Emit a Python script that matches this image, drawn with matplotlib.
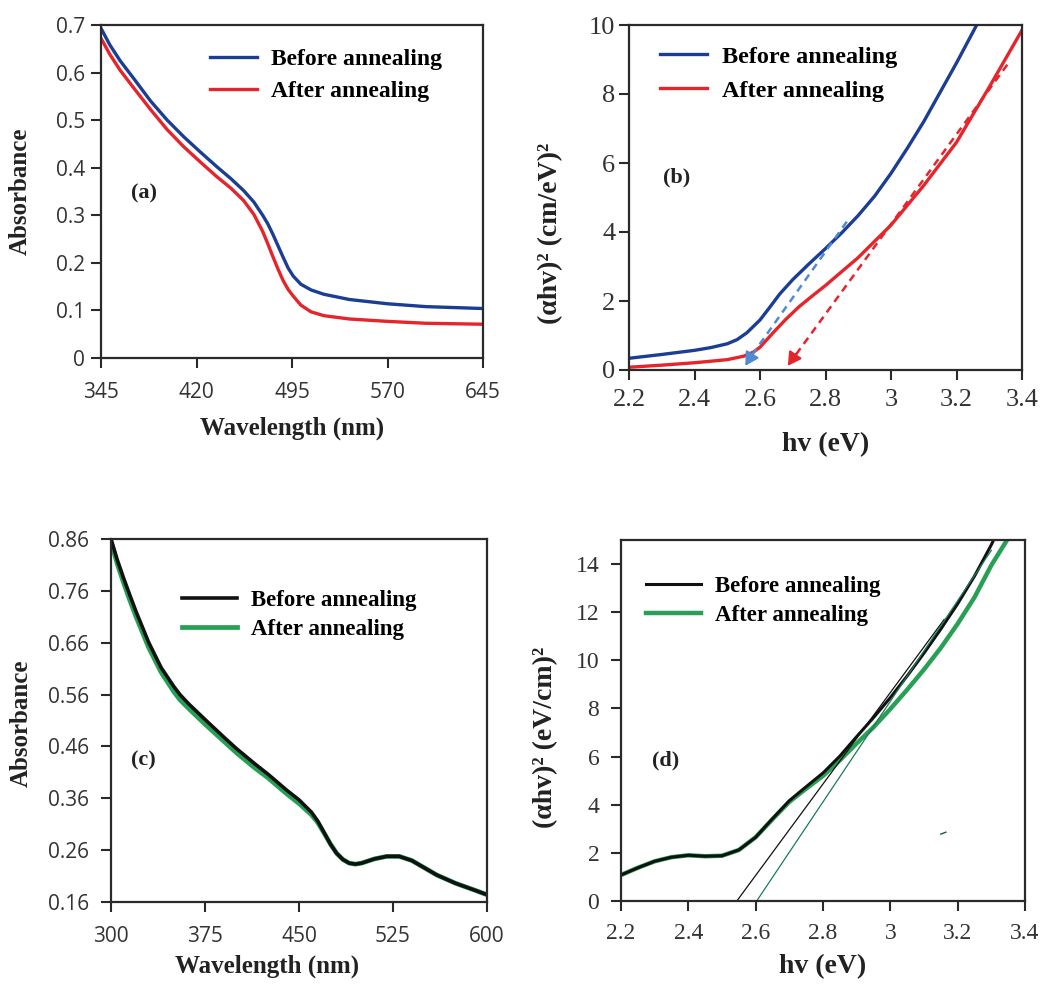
import matplotlib
matplotlib.use("Agg")
import matplotlib.pyplot as plt
from matplotlib.font_manager import FontProperties

# ---------------- data ----------------
# (a) absorbance spectra, sample 1
wl_a = [345, 352, 360, 370, 384, 397, 410, 423, 436, 447, 457, 465, 472, 476, 480, 484,
        488, 492, 496, 502, 510, 520, 540, 570, 600, 645]
abs_a_before = [0.693, 0.658, 0.625, 0.590, 0.540, 0.500, 0.465, 0.433, 0.402, 0.377, 0.352,
                0.328, 0.300, 0.282, 0.260, 0.236, 0.212, 0.189, 0.172, 0.155, 0.143, 0.134,
                0.123, 0.114, 0.108, 0.104]
abs_a_after = [0.672, 0.638, 0.605, 0.570, 0.522, 0.480, 0.444, 0.412, 0.381, 0.357, 0.331,
               0.302, 0.266, 0.240, 0.213, 0.187, 0.163, 0.144, 0.130, 0.111, 0.097, 0.089,
               0.082, 0.077, 0.073, 0.071]

# (b) Tauc plot, sample 1
hv_b_before = [2.2, 2.3, 2.4, 2.45, 2.5, 2.53, 2.56, 2.6, 2.63, 2.66, 2.7, 2.75, 2.8, 2.85,
               2.9, 2.95, 3.0, 3.05, 3.1, 3.15, 3.2, 3.27]
tauc_b_before = [0.34, 0.45, 0.57, 0.65, 0.76, 0.88, 1.08, 1.45, 1.82, 2.20, 2.62, 3.08,
                 3.52, 3.98, 4.48, 5.04, 5.70, 6.43, 7.20, 8.05, 8.90, 10.15]
hv_b_after = [2.2, 2.3, 2.4, 2.5, 2.55, 2.58, 2.6, 2.64, 2.68, 2.72, 2.76, 2.8, 2.9, 3.0,
              3.1, 3.2, 3.3, 3.4]
tauc_b_after = [0.08, 0.14, 0.21, 0.30, 0.40, 0.52, 0.66, 1.08, 1.48, 1.84, 2.15, 2.45, 3.26,
                4.20, 5.35, 6.60, 8.20, 9.85]
fit_b_before = ([2.865, 2.57], [4.30, 0.36])
fit_b_after = ([3.355, 2.70], [8.85, 0.32])
gap_b = [2.555, 2.685]

# (c) absorbance spectra, sample 2
wl_c = [300, 305, 310, 315, 320, 330, 340, 350, 355, 362, 375, 390, 400, 415, 425, 440,
        450, 460, 465, 470, 475, 480, 485, 490, 495, 500, 510, 520, 530, 540, 550, 560,
        575, 590, 600]
abs_c_before = [0.860, 0.820, 0.785, 0.752, 0.720, 0.661, 0.612, 0.576, 0.560, 0.542, 0.512,
                0.478, 0.456, 0.426, 0.407, 0.376, 0.357, 0.333, 0.316, 0.294, 0.272, 0.254,
                0.242, 0.235, 0.233, 0.235, 0.243, 0.248, 0.248, 0.240, 0.226, 0.212, 0.196,
                0.183, 0.174]
abs_c_after = [0.855, 0.812, 0.776, 0.742, 0.710, 0.651, 0.603, 0.566, 0.550, 0.533, 0.503,
               0.470, 0.448, 0.418, 0.400, 0.369, 0.350, 0.328, 0.313, 0.293, 0.272, 0.254,
               0.242, 0.235, 0.233, 0.235, 0.243, 0.248, 0.248, 0.240, 0.226, 0.212, 0.196,
               0.183, 0.174]

# (d) Tauc plot, sample 2
hv_d = [2.2, 2.25, 2.3, 2.35, 2.4, 2.45, 2.5, 2.55, 2.6, 2.65, 2.7, 2.75, 2.8, 2.85, 2.9,
        2.95, 3.0, 3.05, 3.1, 3.15, 3.2, 3.25, 3.3, 3.36]
tauc_d_before = [1.08, 1.38, 1.65, 1.82, 1.90, 1.86, 1.88, 2.12, 2.65, 3.42, 4.17, 4.75,
                 5.32, 6.02, 6.83, 7.62, 8.45, 9.35, 10.30, 11.30, 12.35, 13.50, 14.80,
                 16.60]
tauc_d_after = [1.08, 1.38, 1.65, 1.82, 1.90, 1.86, 1.88, 2.12, 2.65, 3.40, 4.12, 4.67,
                5.20, 5.85, 6.55, 7.22, 7.98, 8.78, 9.62, 10.52, 11.52, 12.62, 13.95,
                15.30]
fit_d_before = ([2.544, 3.16], [0.0, 11.70])
fit_d_after = ([2.603, 3.30], [0.0, 14.57])
speck_d = ([3.150, 3.165], [2.78, 2.86])

# tick values and labels
ticks_a_x = [345, 420, 495, 570, 645]
ticks_a_y = [0, 0.1, 0.2, 0.3, 0.4, 0.5, 0.6, 0.7]
labels_a_y = ["0", "0.1", "0.2", "0.3", "0.4", "0.5", "0.6", "0.7"]
ticks_hv = [2.2, 2.4, 2.6, 2.8, 3.0, 3.2, 3.4]
labels_hv = ["2.2", "2.4", "2.6", "2.8", "3", "3.2", "3.4"]
ticks_b_y = [0, 2, 4, 6, 8, 10]
ticks_c_x = [300, 375, 450, 525, 600]
ticks_c_y = [0.16, 0.26, 0.36, 0.46, 0.56, 0.66, 0.76, 0.86]
ticks_d_y = [0, 2, 4, 6, 8, 10, 12, 14]

legend_labels = ["Before annealing", "After annealing"]

# ---------------- styling ----------------
SERIF = "Liberation Serif"
SANS = "Open Sans"
BLUE = "#1b3d93"
RED = "#e5242b"
LBLUE = "#4f8bd2"
GREEN = "#27a055"
BLACK = "#111111"
TICKC = "#333333"
PX = 72.0 / 100.0  # points per pixel at dpi 100

fig = plt.figure(figsize=(10.43, 9.85), dpi=100)
fig.patch.set_facecolor("white")


def frame(ax, tick_font, tick_size, xpad, ypad):
    for s in ax.spines.values():
        s.set_linewidth(1.6)
        s.set_color("#2a2a2a")
    ax.tick_params(axis="both", direction="out", length=7, width=1.5, color="#2a2a2a",
                   top=False, right=False, labelcolor=TICKC, labelsize=tick_size)
    ax.tick_params(axis="x", pad=xpad * PX)
    ax.tick_params(axis="y", pad=ypad * PX)
    for lab in ax.get_xticklabels() + ax.get_yticklabels():
        lab.set_fontfamily(tick_font)


def labels(ax, xl, yl, xpos, ypos, size):
    fp = dict(family=SERIF, weight="bold", size=size, color="#222222")
    ax.set_xlabel(xl, **fp)
    ax.set_ylabel(yl, **fp)
    ax.xaxis.set_label_coords(*xpos)
    ax.yaxis.set_label_coords(*ypos)


def legend(ax, handles, anchor, size, hlen, spacing):
    ax.legend(handles, legend_labels, loc="upper left", bbox_to_anchor=anchor,
              frameon=False, borderpad=0, borderaxespad=0, handlelength=hlen,
              handletextpad=0.6, labelspacing=spacing,
              prop=FontProperties(family=SERIF, weight="bold", size=size))


def tag(ax, pos, text):
    ax.text(*pos, text, transform=ax.transAxes, ha="center", va="center",
            family=SERIF, weight="bold", size=16, color="#222222")


# (a)
ax = fig.add_axes([101 / 1043, 1 - 358 / 985, 382 / 1043, 333 / 985])
l1, = ax.plot(wl_a, abs_a_before, color=BLUE, lw=2.4, solid_joinstyle="round")
l2, = ax.plot(wl_a, abs_a_after, color=RED, lw=2.4, solid_joinstyle="round")
ax.set_xlim(345, 645)
ax.set_ylim(0, 0.7)
ax.set_xticks(ticks_a_x)
ax.set_yticks(ticks_a_y, labels_a_y)
frame(ax, SANS, 15, 14, 6)
labels(ax, "Wavelength (nm)", "Absorbance", (0.5, -0.175), (-0.18, 0.5), 18)
legend(ax, [l1, l2], (0.285, 0.93), 17, 2.0, 0.45)
tag(ax, (0.113, 0.495), "(a)")

# (b)
ax = fig.add_axes([629 / 1043, 1 - 370 / 985, 393 / 1043, 345 / 985])
l1, = ax.plot(hv_b_before, tauc_b_before, color=BLUE, lw=2.4, solid_joinstyle="round")
l2, = ax.plot(hv_b_after, tauc_b_after, color=RED, lw=2.4, solid_joinstyle="round")
ax.plot(*fit_b_before, color=LBLUE, lw=1.8, ls=(0, (3, 2.2)))
ax.plot(*fit_b_after, color=RED, lw=1.8, ls=(0, (3, 2.2)))
for (fx, fy), gx, c in ((fit_b_before, gap_b[0], LBLUE), (fit_b_after, gap_b[1], RED)):
    ax.annotate("", xy=(gx, 0.12), xytext=(fx[1] + 0.01, fy[1] + 0.15),
                arrowprops=dict(arrowstyle="-|>,head_length=0.8,head_width=0.45",
                                color=c, lw=1.5, shrinkA=0, shrinkB=0))
ax.set_xlim(2.2, 3.4)
ax.set_ylim(0, 10)
ax.set_xticks(ticks_hv, labels_hv)
ax.set_yticks(ticks_b_y)
frame(ax, SERIF, 19, 9, 4)
labels(ax, "hv (eV)", "(αhv)² (cm/eV)²", (0.5, -0.18), (-0.168, 0.395), 20)
legend(ax, [l1, l2], (0.079, 0.94), 17.5, 1.95, 0.5)
tag(ax, (0.12, 0.559), "(b)")

# (c)
ax = fig.add_axes([111 / 1043, 1 - 902 / 985, 376 / 1043, 363 / 985])
l2, = ax.plot(wl_c, abs_c_after, color=GREEN, lw=3.4, solid_joinstyle="round")
l1, = ax.plot(wl_c, abs_c_before, color=BLACK, lw=2.6, solid_joinstyle="round")
ax.set_xlim(300, 600)
ax.set_ylim(0.16, 0.86)
ax.set_xticks(ticks_c_x)
ax.set_yticks(ticks_c_y, [f"{v:.2f}" for v in ticks_c_y])
frame(ax, SANS, 15, 14, 12)
labels(ax, "Wavelength (nm)", "Absorbance", (0.415, -0.145), (-0.207, 0.493), 18)
legend(ax, [l1, l2], (0.189, 0.86), 16.5, 2.4, 0.35)
tag(ax, (0.085, 0.391), "(c)")

# (d)
ax = fig.add_axes([621 / 1043, 1 - 901 / 985, 404 / 1043, 361 / 985])
l2, = ax.plot(hv_d, tauc_d_after, color=GREEN, lw=3.2, solid_joinstyle="round")
l1, = ax.plot(hv_d, tauc_d_before, color=BLACK, lw=2.2, solid_joinstyle="round")
ax.plot(*fit_d_before, color=BLACK, lw=0.9)
ax.plot(*fit_d_after, color="#1d7a55", lw=0.9)
ax.plot(*speck_d, color="#1d5a50", lw=1.0)
ax.set_xlim(2.2, 3.4)
ax.set_ylim(0, 15)
ax.set_xticks(ticks_hv, labels_hv)
ax.set_yticks(ticks_d_y)
frame(ax, SERIF, 17, 12, 12)
labels(ax, "hv (eV)", "(αhv)² (eV/cm)²", (0.5, -0.147), (-0.156, 0.454), 20)
legend(ax, [l1, l2], (0.062, 0.9), 16.5, 2.4, 0.35)
tag(ax, (0.111, 0.39), "(d)")

fig.savefig("out.png", dpi=100, facecolor="white")
